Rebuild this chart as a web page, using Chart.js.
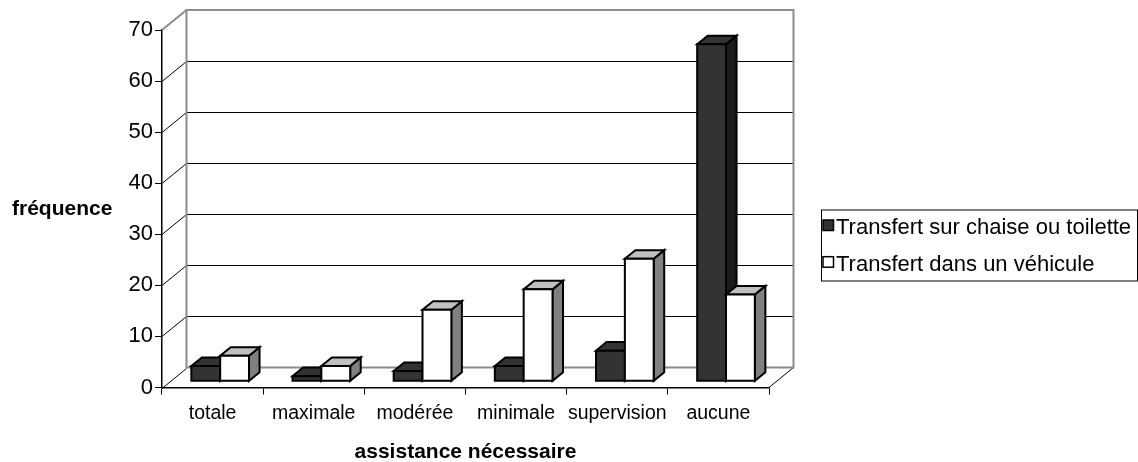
<!DOCTYPE html>
<html lang="fr">
<head>
<meta charset="utf-8">
<title>Assistance nécessaire – fréquence</title>
<script src="https://cdn.jsdelivr.net/npm/chart.js@4/dist/chart.umd.min.js"></script>
<style>
  html, body { margin: 0; padding: 0; background: #ffffff; }
  #chart { display: block; }
</style>
</head>
<body>
<canvas id="chart" width="1138" height="462"></canvas>
<script>
// Categories and series values
const categories = ['totale', 'maximale', 'modérée', 'minimale', 'supervision', 'aucune'];
const chaiseValues = [3, 1, 2, 3, 6, 66];
const vehiculeValues = [5, 3, 14, 18, 24, 17];
const seriesLabels = ['Transfert sur chaise ou toilette', 'Transfert dans un véhicule'];
const yAxisMin = 0;
const yAxisMax = 70;
const yAxisStep = 10;
const yTitle = 'fréquence';
const xTitle = 'assistance nécessaire';

const FONT = '"Liberation Sans", Arial, Helvetica, sans-serif';

// Face colours for the two series: front, top, side
const faceColors = [
  { front: '#333333', top: '#333333', side: '#1c1c1c' },
  { front: '#ffffff', top: '#c0c0c0', side: '#808080' }
];

// Depth of the 3D box (offset of the back wall relative to the front plane)
const DEPTH_X = 24.5;
const DEPTH_Y = -20;
// Where the bars sit inside that depth, as fractions of it
const BAR_FRONT = 0.31;
const BAR_DEPTH = 0.43;

function drawBar(ctx, left, right, top, base, colors) {
  const fx = DEPTH_X * BAR_FRONT, fy = DEPTH_Y * BAR_FRONT;
  const bx = DEPTH_X * BAR_DEPTH, by = DEPTH_Y * BAR_DEPTH;
  const L = left + fx, R = right + fx, T = top + fy, B = base + fy;
  ctx.lineWidth = 2;
  ctx.lineJoin = 'miter';
  ctx.strokeStyle = '#000000';
  // side face
  ctx.beginPath();
  ctx.moveTo(R, T); ctx.lineTo(R + bx, T + by); ctx.lineTo(R + bx, B + by); ctx.lineTo(R, B);
  ctx.closePath();
  ctx.fillStyle = colors.side; ctx.fill(); ctx.stroke();
  // top face
  ctx.beginPath();
  ctx.moveTo(L, T); ctx.lineTo(L + bx, T + by); ctx.lineTo(R + bx, T + by); ctx.lineTo(R, T);
  ctx.closePath();
  ctx.fillStyle = colors.top; ctx.fill(); ctx.stroke();
  // front face
  ctx.beginPath();
  ctx.rect(L, T, R - L, B - T);
  ctx.fillStyle = colors.front; ctx.fill(); ctx.stroke();
}

const box3d = {
  id: 'box3d',
  beforeDatasetsDraw(chart) {
    const { ctx, chartArea: a, scales: { x, y } } = chart;
    ctx.save();
    const y0 = y.getPixelForValue(yAxisMin);
    const yTop = y.getPixelForValue(yAxisMax);

    // gridlines on the back wall and diagonals on the left wall
    ctx.strokeStyle = '#000000';
    ctx.lineWidth = 1;
    for (let v = yAxisMin; v < yAxisMax; v += yAxisStep) {
      const py = Math.round(y.getPixelForValue(v)) + 0.5;
      ctx.beginPath();
      ctx.moveTo(a.left, py);
      ctx.lineTo(a.left + DEPTH_X, py + DEPTH_Y);
      if (v > yAxisMin) ctx.lineTo(a.right + DEPTH_X, py + DEPTH_Y);
      ctx.stroke();
    }
    // floor, right edge
    ctx.beginPath();
    ctx.moveTo(a.right, y0);
    ctx.lineTo(a.right + DEPTH_X, y0 + DEPTH_Y);
    ctx.stroke();

    // back wall outline
    ctx.strokeStyle = '#8c8c8c';
    ctx.lineWidth = 2;
    ctx.beginPath();
    ctx.rect(a.left + DEPTH_X, yTop + DEPTH_Y, a.right - a.left, y0 - yTop);
    ctx.stroke();
    ctx.beginPath();
    ctx.moveTo(a.left, yTop);
    ctx.lineTo(a.left + DEPTH_X, yTop + DEPTH_Y);
    ctx.stroke();

    // bars, category by category so neighbours overlap correctly
    const metas = chart.data.datasets.map((d, i) => chart.getDatasetMeta(i));
    for (let i = 0; i < categories.length; i++) {
      metas.forEach((meta, d) => {
        const el = meta.data[i];
        const half = el.width / 2;
        drawBar(ctx, el.x - half, el.x + half, el.y, el.base, faceColors[d]);
      });
    }
    ctx.restore();
    return false;
  },
  afterDraw(chart) {
    const { ctx, chartArea: a } = chart;
    ctx.save();
    ctx.fillStyle = '#000000';
    ctx.textBaseline = 'alphabetic';

    // axis titles
    ctx.font = 'bold 21px ' + FONT;
    ctx.textAlign = 'left';
    ctx.fillText(yTitle, 12, 215);
    ctx.textAlign = 'center';
    ctx.fillText(xTitle, (a.left + a.right) / 2, 458);

    // legend
    const lx = 821, ly = 209.5, lw = 316, lh = 71;
    ctx.strokeStyle = '#000000';
    ctx.lineWidth = 1;
    ctx.strokeRect(lx + 0.5, ly + 0.5, lw, lh);
    ctx.font = '22px ' + FONT;
    ctx.textAlign = 'left';
    seriesLabels.forEach((label, i) => {
      const sy = 220 + i * 36.7;
      ctx.fillStyle = faceColors[i].front;
      ctx.fillRect(823, sy, 10.5, 10.5);
      ctx.strokeStyle = '#000000';
      ctx.lineWidth = 1.5;
      ctx.strokeRect(823, sy, 10.5, 10.5);
      ctx.fillStyle = '#000000';
      ctx.fillText(label, 836, 234.3 + i * 37);
    });
    ctx.restore();
  }
};

new Chart(document.getElementById('chart'), {
  type: 'bar',
  data: {
    labels: categories,
    datasets: [
      { label: seriesLabels[0], data: chaiseValues, backgroundColor: faceColors[0].front },
      { label: seriesLabels[1], data: vehiculeValues, backgroundColor: faceColors[1].front }
    ]
  },
  options: {
    responsive: false,
    animation: false,
    devicePixelRatio: 1,
    categoryPercentage: 0.57,
    barPercentage: 1,
    layout: { padding: { left: 0, right: 369, top: 30, bottom: 0 } },
    plugins: {
      legend: { display: false },
      tooltip: { enabled: false }
    },
    scales: {
      x: {
        grid: { display: true, drawOnChartArea: false, drawTicks: true, tickLength: 7, color: '#000000', offset: true },
        border: { display: true, color: '#000000', width: 1.5 },
        ticks: { color: '#000000', font: { family: FONT, size: 19.5 }, padding: 7, maxRotation: 0, autoSkip: false },
        afterFit(scale) { scale.height = 74.5; }
      },
      y: {
        min: yAxisMin,
        max: yAxisMax,
        grid: { display: true, drawOnChartArea: false, drawTicks: true, tickLength: 7, color: '#000000' },
        border: { display: true, color: '#000000', width: 1.5 },
        ticks: { stepSize: yAxisStep, color: '#000000', font: { family: FONT, size: 22 }, padding: 2 },
        afterFit(scale) { scale.width = 162; }
      }
    }
  },
  plugins: [box3d]
});
</script>
</body>
</html>
